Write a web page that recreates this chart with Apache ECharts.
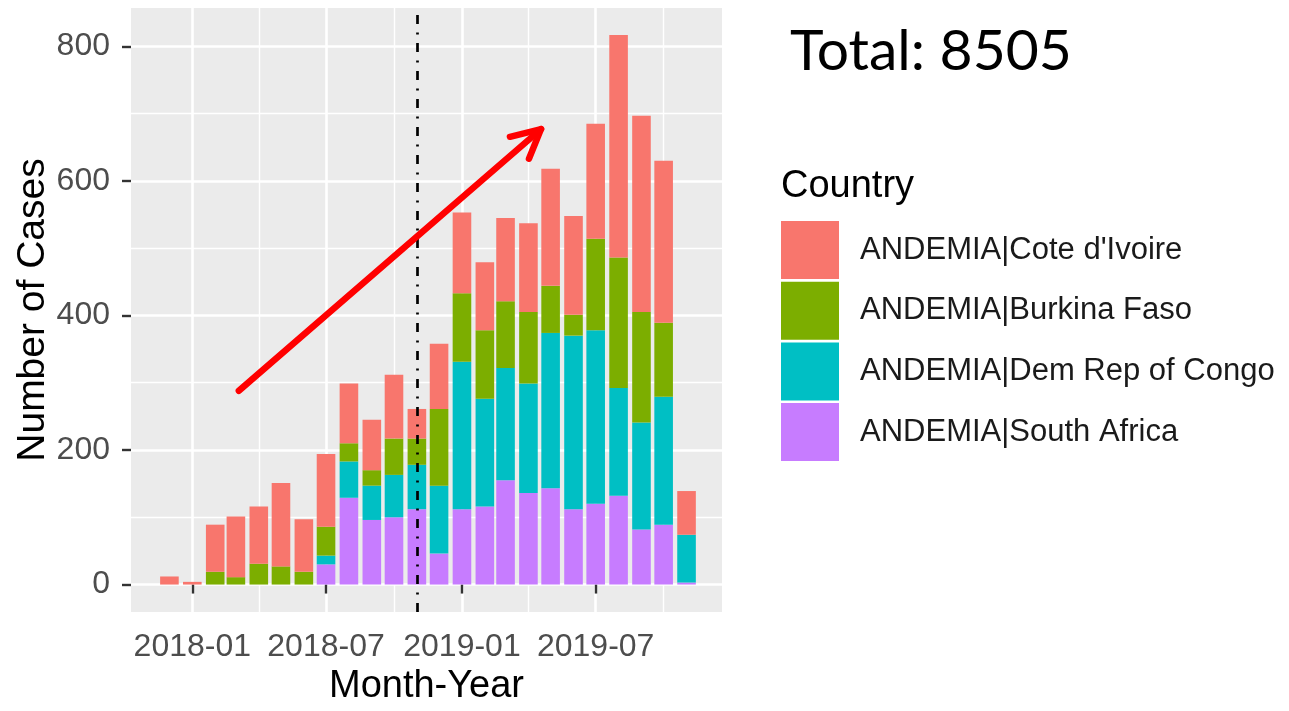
<!DOCTYPE html>
<html><head><meta charset="utf-8">
<script src="https://cdn.jsdelivr.net/npm/echarts@6/dist/echarts.min.js"></script>
<style>html,body{margin:0;padding:0;background:#fff}#c{width:1289px;height:711px}</style>
</head><body><div id="c"></div>
<script>
// ---- data ----
const months = ['2017-12','2018-01','2018-02','2018-03','2018-04','2018-05','2018-06','2018-07','2018-08','2018-09','2018-10','2018-11','2018-12',
  '2019-01','2019-02','2019-03','2019-04','2019-05','2019-06','2019-07','2019-08','2019-09','2019-10','2019-11'];
const southAfrica = [0,0,0,0,0,0,0,30,129,96,100,112,46,112,116,155,136,143,112,120,132,82,89,3];
const demRepCongo = [0,0,0,0,0,0,0,13,54,51,63,66,101,219,160,167,163,231,258,258,160,159,190,71];
const burkinaFaso = [0,0,19,11,31,27,19,43,27,23,54,39,114,102,102,99,106,70,31,136,194,164,110,0];
const coteDIvoire = [12,4,70,90,85,124,78,108,89,75,95,44,97,120,101,124,132,174,147,171,331,292,241,65];
const countryNames = ["ANDEMIA|Cote d'Ivoire","ANDEMIA|Burkina Faso","ANDEMIA|Dem Rep of Congo","ANDEMIA|South Africa"];
const countryColors = ['#F8766D','#7CAE00','#00BFC4','#C77CFF'];
const xMajorTicks = ['2018-01','2018-07','2019-01','2019-07'];
const xMinorTicks = ['2018-04','2018-10','2019-04','2019-10'];
const yMajorTicks = [0,200,400,600,800];
const yMinorTicks = [100,300,500,700];
const xRange = ['2017-10-10','2019-12-19'];
const yRange = [-40.8, 857];
const cutoffMonth = '2018-11';
const trendArrow = [['2018-03-05', 288], ['2019-04-18', 677]];
const totalText = 'Total: 8505';
const legendTitle = 'Country';

// ---- helpers ----
function toTime(s){ const p = s.split('-').map(Number); return Date.UTC(p[0], p[1]-1, p[2]||1); }
function fmtMonth(v){ const d = new Date(v); return d.getUTCFullYear() + '-' + String(d.getUTCMonth()+1).padStart(2,'0'); }
const FONT = '"Liberation Sans", Arial, sans-serif';

const chart = echarts.init(document.getElementById('c'), null, {renderer:'canvas'});

const stackOrder = [
  {name: countryNames[3], data: southAfrica, color: countryColors[3]},
  {name: countryNames[2], data: demRepCongo, color: countryColors[2]},
  {name: countryNames[1], data: burkinaFaso, color: countryColors[1]},
  {name: countryNames[0], data: coteDIvoire, color: countryColors[0]}
];

// value first, month second: makes the case count the stacked dimension
const series = stackOrder.map((s, i) => {
  const o = {
    type: 'bar', name: s.name, stack: 'cases',
    xAxisIndex: 0, yAxisIndex: 0,
    barWidth: 18.6,
    encode: {x: 1, y: 0},
    itemStyle: {color: s.color},
    data: months.map((m, k) => [s.data[k], toTime(m)])
  };
  if (i === 3) o.markLine = {
    silent: true, symbol: ['none','none'], label: {show:false},
    lineStyle: {color:'#000', width:2.7, type:[9,8.5,2,8.5]},
    data: [{xAxis: toTime(cutoffMonth)}]
  };
  return o;
});

const gridLine = w => ({show:true, lineStyle:{color:'#FFFFFF', width:w, type:'solid'}});

chart.setOption({
  animation: false,
  backgroundColor: '#FFFFFF',
  textStyle: {fontFamily: FONT},
  grid: {left:131, right:567, top:8, bottom:96, show:true, backgroundColor:'#EBEBEB', borderWidth:0, containLabel:false},
  legend: {
    data: countryNames, orient:'vertical', left:781, top:221,
    itemWidth:58, itemHeight:58, itemGap:2.7, icon:'rect', padding:0,
    selectedMode:false,
    textStyle:{fontFamily:FONT, fontSize:31, color:'#1A1A1A', padding:[6,0,0,16]}
  },
  xAxis: [
    {type:'value', min:toTime(xRange[0]), max:toTime(xRange[1]), position:'bottom', scale:true,
     axisLine:{show:false},
     axisTick:{show:true, length:9, lineStyle:{color:'#333333', width:2.4}, customValues: xMajorTicks.map(toTime)},
     axisLabel:{show:true, fontFamily:FONT, fontSize:32, color:'#4D4D4D', margin:19, formatter: v => fmtMonth(v), customValues: xMajorTicks.map(toTime)},
     splitLine: gridLine(2.6),
     name:'Month-Year', nameLocation:'middle', nameGap:56,
     nameTextStyle:{fontFamily:FONT, fontSize:38, color:'#000'}
    },
    {type:'value', min:toTime(xRange[0]), max:toTime(xRange[1]), position:'bottom', scale:true,
     axisLine:{show:false},
     axisTick:{show:false, customValues: xMinorTicks.map(toTime)},
     axisLabel:{show:false, customValues: xMinorTicks.map(toTime)},
     splitLine: gridLine(1.4)
    }
  ],
  yAxis: [
    {type:'value', min:yRange[0], max:yRange[1], position:'left',
     axisLine:{show:false},
     axisTick:{show:true, length:9, lineStyle:{color:'#333333', width:2.4}, customValues: yMajorTicks},
     axisLabel:{show:true, fontFamily:FONT, fontSize:32, color:'#4D4D4D', margin:21, customValues: yMajorTicks},
     splitLine: gridLine(2.6),
     name:'Number of Cases', nameLocation:'middle', nameGap:77, nameRotate:90,
     nameTextStyle:{fontFamily:FONT, fontSize:39, color:'#000'}
    },
    {type:'value', min:yRange[0], max:yRange[1], position:'left',
     axisLine:{show:false},
     axisTick:{show:false, customValues: yMinorTicks},
     axisLabel:{show:false, customValues: yMinorTicks},
     splitLine: gridLine(1.4)
    }
  ],
  series: series
});

// annotations positioned through the chart's own scales
const p0 = chart.convertToPixel({xAxisIndex:0, yAxisIndex:0}, [toTime(trendArrow[0][0]), trendArrow[0][1]]);
const p1 = chart.convertToPixel({xAxisIndex:0, yAxisIndex:0}, [toTime(trendArrow[1][0]), trendArrow[1][1]]);
const ang = Math.atan2(p1[1]-p0[1], p1[0]-p0[0]);
const L = 32, a = 27*Math.PI/180;
const h1 = [p1[0]-L*Math.cos(ang-a), p1[1]-L*Math.sin(ang-a)];
const h2 = [p1[0]-L*Math.cos(ang+a), p1[1]-L*Math.sin(ang+a)];

chart.setOption({
  graphic: [
    {type:'text', id:'total', left:790, top:23, style:{text: totalText, font:'57px Lato, "Open Sans", sans-serif', fill:'#000'}},
    {type:'text', id:'legTitle', x:781, y:187, style:{text: legendTitle, font:'38px ' + FONT, fill:'#000', verticalAlign:'middle'}},
    {type:'polyline', id:'arrowLine', z:100, shape:{points:[p0, p1]}, style:{stroke:'#FF0000', lineWidth:6.5, lineCap:'round', fill:null}},
    {type:'polyline', id:'arrowHead', z:100, shape:{points:[h1, p1, h2]}, style:{stroke:'#FF0000', lineWidth:6.5, lineCap:'round', lineJoin:'round', fill:null}}
  ]
});
</script>
</body></html>
